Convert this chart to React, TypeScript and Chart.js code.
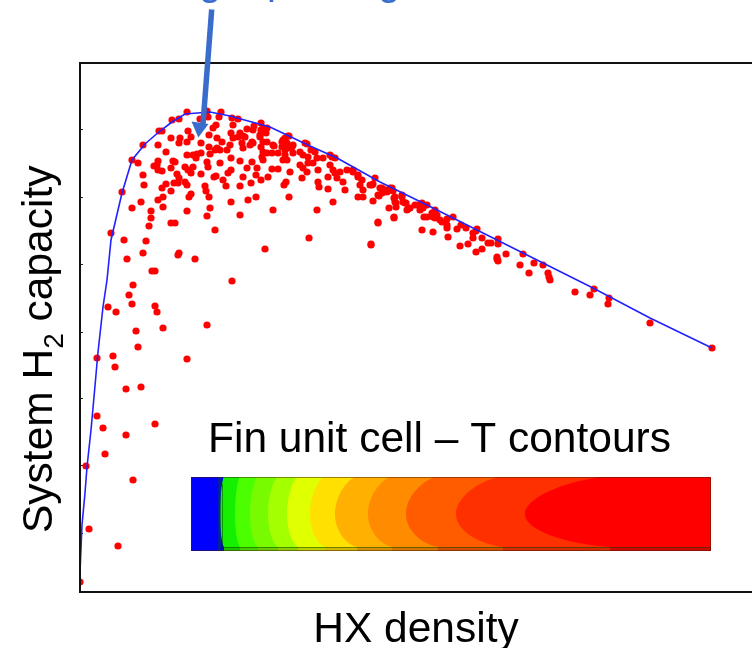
import React, { useEffect, useRef } from "react";
import { Chart, registerables } from "chart.js";

Chart.register(...registerables);

// Axes carry no numbers in the source, so units are arbitrary.
const xTitle = "HX density";
const yTitleParts = ["System H", "2", " capacity"];
const insetTitle = "Fin unit cell – T contours";
const yTickValues = [59, 127, 194, 260, 328, 395, 463];

const envelopeX = [0, 2, 5, 7, 11, 14, 18, 23, 27, 31, 42, 52, 65, 80, 92, 105, 130, 150, 190, 230, 257, 300, 343, 417, 513, 570, 632];
const envelopeY = [20, 67, 99, 125, 162, 195, 240, 285, 312, 352, 399, 432, 448, 461, 470, 478, 480, 476, 465, 446, 434, 410, 389, 352, 304, 274, 244];

const lowerLeftDesigns: [number, number][] = [
  [53, 307], [49, 297], [52, 288], [28, 285], [36, 280], [75, 286], [77, 280], [152, 311], [127, 267], [56, 261],
  [83, 264], [58, 245], [17, 234], [33, 236], [35, 225], [107, 233], [46, 203], [61, 205], [17, 176], [23, 164],
  [75, 168], [46, 157], [25, 138], [6, 126], [53, 112], [9, 63], [38, 46], [0, 10],
];
const midLeftDesigns: [number, number][] = [
  [72, 321], [75, 321], [98, 337], [99, 339], [115, 333], [185, 343], [47, 333], [63, 339], [66, 351], [44, 352],
  [31, 359], [69, 366], [91, 369], [95, 369], [71, 374], [71, 381], [52, 384], [61, 390], [42, 400], [83, 385],
  [78, 392], [83, 395], [107, 381], [127, 376], [130, 384], [135, 362], [160, 377], [151, 390], [168, 392], [176, 395],
  [193, 382], [209, 395], [237, 382], [229, 354], [291, 347], [298, 369], [253, 390],
];
const crestLeftDesigns: [number, number][] = [
  [129, 395], [126, 401], [125, 406], [109, 395], [111, 398], [107, 407], [105, 410], [98, 409], [94, 409], [99, 414],
  [97, 418], [95, 430], [93, 431], [91, 424], [91, 401], [86, 408], [82, 404], [64, 407], [63, 417], [58, 429],
  [52, 432], [63, 447], [78, 431], [77, 427], [74, 426], [78, 422], [82, 421], [86, 440], [78, 447], [91, 454],
  [100, 454], [99, 449], [107, 450], [111, 455], [108, 461], [121, 449], [79, 461], [82, 461], [92, 472], [99, 473],
  [107, 480], [127, 481], [141, 480], [128, 475], [120, 473], [139, 475], [152, 474], [158, 473], [107, 437], [113, 437],
  [117, 438], [121, 439], [116, 434], [105, 425], [108, 422], [113, 425], [111, 419], [121, 418], [127, 430], [128, 425],
  [130, 438], [135, 442], [140, 442], [147, 442], [150, 447], [153, 454], [151, 459], [153, 467], [129, 457], [133, 464],
  [136, 467], [137, 454], [142, 450], [137, 444], [129, 445],
];
const crestMidDesigns: [number, number][] = [
  [140, 429], [151, 434], [160, 431], [151, 422], [148, 419], [134, 415], [136, 416], [143, 412], [146, 406], [160, 406],
  [163, 415], [167, 424], [172, 430], [171, 409], [176, 417], [177, 424], [181, 412], [188, 415], [192, 423], [198, 423],
  [210, 420], [206, 410], [204, 407], [222, 414], [183, 432], [182, 435], [187, 439], [192, 439], [198, 439], [203, 432],
  [194, 446], [202, 450], [180, 455], [183, 450], [181, 445], [183, 440], [187, 450], [160, 459], [163, 456], [165, 455],
  [158, 455], [162, 449], [163, 444], [172, 450], [170, 447], [167, 463], [174, 466], [173, 462], [181, 469], [181, 462],
  [187, 464], [183, 464], [186, 459], [180, 457], [173, 449], [193, 447], [203, 452],
];
const ridgeDesigns: [number, number][] = [
  [205, 454], [208, 456], [203, 450], [207, 449], [202, 445], [205, 442], [208, 444], [212, 445], [205, 437], [207, 432],
  [227, 448], [213, 439], [220, 440], [231, 442], [235, 440], [223, 437], [228, 435], [220, 427], [223, 424], [227, 420],
  [228, 429], [233, 429], [238, 422], [237, 434], [243, 434], [252, 435], [255, 434], [250, 427], [253, 422], [248, 415],
  [255, 419], [260, 420], [267, 422], [273, 420], [257, 414], [263, 410], [265, 402], [238, 410], [239, 405], [248, 403],
  [278, 415], [282, 412], [280, 407], [283, 402], [278, 395], [283, 395], [295, 414], [292, 407], [302, 404], [307, 400],
  [312, 404], [298, 397], [293, 391], [315, 395], [322, 395], [325, 389], [328, 383], [315, 390], [309, 384], [316, 385],
  [314, 374], [209, 456], [213, 447], [225, 449], [250, 437], [273, 422], [278, 417],
];
const descentDesigns: [number, number][] = [
  [293, 408], [290, 407], [300, 404], [305, 402], [310, 404], [313, 401], [299, 396], [302, 399], [314, 394], [316, 389],
  [322, 397], [323, 390], [326, 389], [327, 382], [330, 384], [335, 387], [338, 387], [342, 389], [340, 382], [343, 384],
  [347, 387], [344, 375], [347, 375], [352, 379], [355, 382], [353, 375], [357, 377], [355, 374], [360, 372], [362, 370],
  [367, 373], [367, 367], [367, 364], [373, 375], [314, 375], [298, 370], [342, 362], [353, 360], [368, 355], [377, 363],
  [381, 367], [386, 364], [393, 359], [396, 361], [397, 363], [393, 354], [402, 354], [408, 349], [411, 349], [418, 353],
  [418, 348], [380, 346], [388, 348], [402, 343], [396, 340], [417, 335], [417, 333], [291, 348],
];
const tailDesigns: [number, number][] = [
  [426, 338], [418, 331], [443, 338], [440, 327], [454, 329], [463, 327], [449, 319], [468, 319], [469, 315], [470, 312],
  [495, 300], [510, 297], [514, 303], [529, 294], [528, 288], [570, 269], [632, 244],
];

// Temperature bands of the inset, cold to hot.
const bandColours = ["#14f000", "#4cff00", "#78fa00", "#a4ff00", "#e0ff00", "#ffe000", "#ffb000", "#ff8c00", "#ff5c00", "#ff3000", "#ff0000"];
const bandNoseX = [220, 235, 250, 268, 287, 310, 335, 368, 406, 456, 525];
const bandShoulderX = [224, 240, 258, 278, 298, 325, 357, 392, 438, 503, 610];

const annotations = {
  id: "annotations",
  afterDatasetsDraw(chart: Chart) {
    const { ctx, chartArea: a } = chart;
    ctx.save();

    // frame
    ctx.strokeStyle = "#111";
    ctx.lineWidth = 2;
    ctx.strokeRect(a.left, a.top, a.right - a.left + 4, a.bottom - a.top);

    // inset: fin temperature contours
    const L = 191, R = 711, T = 477, B = 551, M = (T + B) / 2;
    ctx.save();
    ctx.beginPath();
    ctx.rect(L, T, R - L, B - T);
    ctx.clip();
    ctx.fillStyle = "#0000ff";
    ctx.fillRect(L, T, R - L, B - T);
    bandColours.forEach((c, i) => {
      const n = bandNoseX[i], s = bandShoulderX[i];
      ctx.fillStyle = c;
      ctx.beginPath();
      ctx.moveTo(R + 2, T - 1);
      ctx.lineTo(s, T - 1);
      ctx.bezierCurveTo(s - (s - n) * 0.5, T + 3, n, M - 17, n, M);
      ctx.bezierCurveTo(n, M + 17, s - (s - n) * 0.5, B - 7, s, B - 4);
      ctx.lineTo(s, B);
      ctx.lineTo(R + 2, B);
      ctx.closePath();
      ctx.fill();
    });
    ctx.fillStyle = "rgba(60,30,0,0.22)";
    ctx.fillRect(222, B - 4, R - 222, 4);
    ctx.strokeStyle = "rgba(0,70,0,0.5)";
    ctx.lineWidth = 1;
    ctx.beginPath();
    ctx.moveTo(222.5, T + 7);
    ctx.lineTo(222.5, B - 3.5);
    ctx.lineTo(R, B - 3.5);
    ctx.stroke();
    ctx.fillStyle = "rgba(0,60,90,0.55)";
    ctx.fillRect(218, T, 3, B - T);
    ctx.restore();
    ctx.strokeStyle = "rgba(70,30,0,0.5)";
    ctx.lineWidth = 1;
    ctx.strokeRect(L + 0.5, T + 0.5, R - L - 1, B - T - 1);

    // inset caption
    ctx.fillStyle = "#000";
    ctx.font = '42.5px "Liberation Sans"';
    ctx.textAlign = "left";
    ctx.textBaseline = "alphabetic";
    ctx.fillText(insetTitle, 208, 452);

    // y axis title with subscript
    ctx.save();
    ctx.translate(52, 530);
    ctx.rotate(-Math.PI / 2);
    ctx.font = '42.5px "Liberation Sans"';
    ctx.fillText(yTitleParts[0], -3, 0);
    let at = ctx.measureText(yTitleParts[0]).width - 3;
    ctx.font = '28px "Liberation Sans"';
    ctx.fillText(yTitleParts[1], at, 11);
    at += ctx.measureText(yTitleParts[1]).width;
    ctx.font = '42.5px "Liberation Sans"';
    ctx.fillText(yTitleParts[2], at, 0);
    ctx.restore();

    // headline descenders cut off by the top edge of the picture
    ctx.fillStyle = "#3A6CCB";
    ctx.font = '40px "Liberation Sans"';
    ctx.textAlign = "center";
    ctx.fillText("g", 210, -5);
    ctx.fillText("p", 278, -6);
    ctx.fillText("g", 389, -5);

    // arrow
    ctx.strokeStyle = "#3A6CCB";
    ctx.lineWidth = 5.5;
    ctx.beginPath();
    ctx.moveTo(211.7, 9.5);
    ctx.lineTo(203, 124);
    ctx.stroke();
    ctx.fillStyle = "#3A6CCB";
    ctx.beginPath();
    ctx.moveTo(198.3, 137.5);
    ctx.lineTo(191.5, 121.5);
    ctx.lineTo(208.5, 124);
    ctx.closePath();
    ctx.fill();
    ctx.restore();
  },
};

export default function App() {
  const ref = useRef<HTMLCanvasElement>(null);
  useEffect(() => {
    const cloud = [
      ...lowerLeftDesigns, ...midLeftDesigns, ...crestLeftDesigns, ...crestMidDesigns,
      ...ridgeDesigns, ...descentDesigns, ...tailDesigns,
    ].map(([x, y]) => ({ x, y }));
    const chart = new Chart(ref.current!, {
      type: "scatter",
      data: {
        datasets: [
          {
            label: "Envelope",
            data: envelopeX.map((x, i) => ({ x, y: envelopeY[i] })),
            showLine: true,
            borderColor: "#2222ff",
            borderWidth: 1.6,
            pointRadius: 0,
            tension: 0,
          },
          {
            label: "Designs",
            data: cloud,
            backgroundColor: "#ff0000",
            borderWidth: 0,
            pointRadius: 3.6,
            pointStyle: "circle",
          },
        ],
      },
      options: {
        animation: false,
        responsive: false,
        layout: { autoPadding: false, padding: { top: 63, left: 0, right: 0, bottom: 0 } },
        plugins: { legend: { display: false }, title: { display: false }, tooltip: { enabled: false } },
        scales: {
          x: {
            type: "linear",
            min: 0,
            max: 672,
            ticks: { display: false },
            grid: { drawOnChartArea: false, drawTicks: false },
            border: { color: "#111", width: 2 },
            title: {
              display: true,
              text: xTitle,
              color: "#000",
              font: { family: '"Liberation Sans"', size: 42.5 },
              padding: { top: 0, bottom: -8 },
            },
            afterFit(s: any) { s.height = 56; },
          },
          y: {
            type: "linear",
            min: 0,
            max: 529,
            ticks: { display: false },
            grid: { drawOnChartArea: false, drawTicks: true, tickLength: -3, color: "#222", tickWidth: 1 },
            border: { color: "#111", width: 2 },
            afterBuildTicks(s: any) { s.ticks = yTickValues.map((value) => ({ value })); },
            afterFit(s: any) { s.width = 80; },
          },
        },
      },
      plugins: [annotations],
    });
    return () => chart.destroy();
  }, []);
  return (
    <canvas
      ref={ref}
      width={752}
      height={648}
      style={{ position: "absolute", left: 0, top: 0, display: "block", background: "#fff" }}
    />
  );
}
